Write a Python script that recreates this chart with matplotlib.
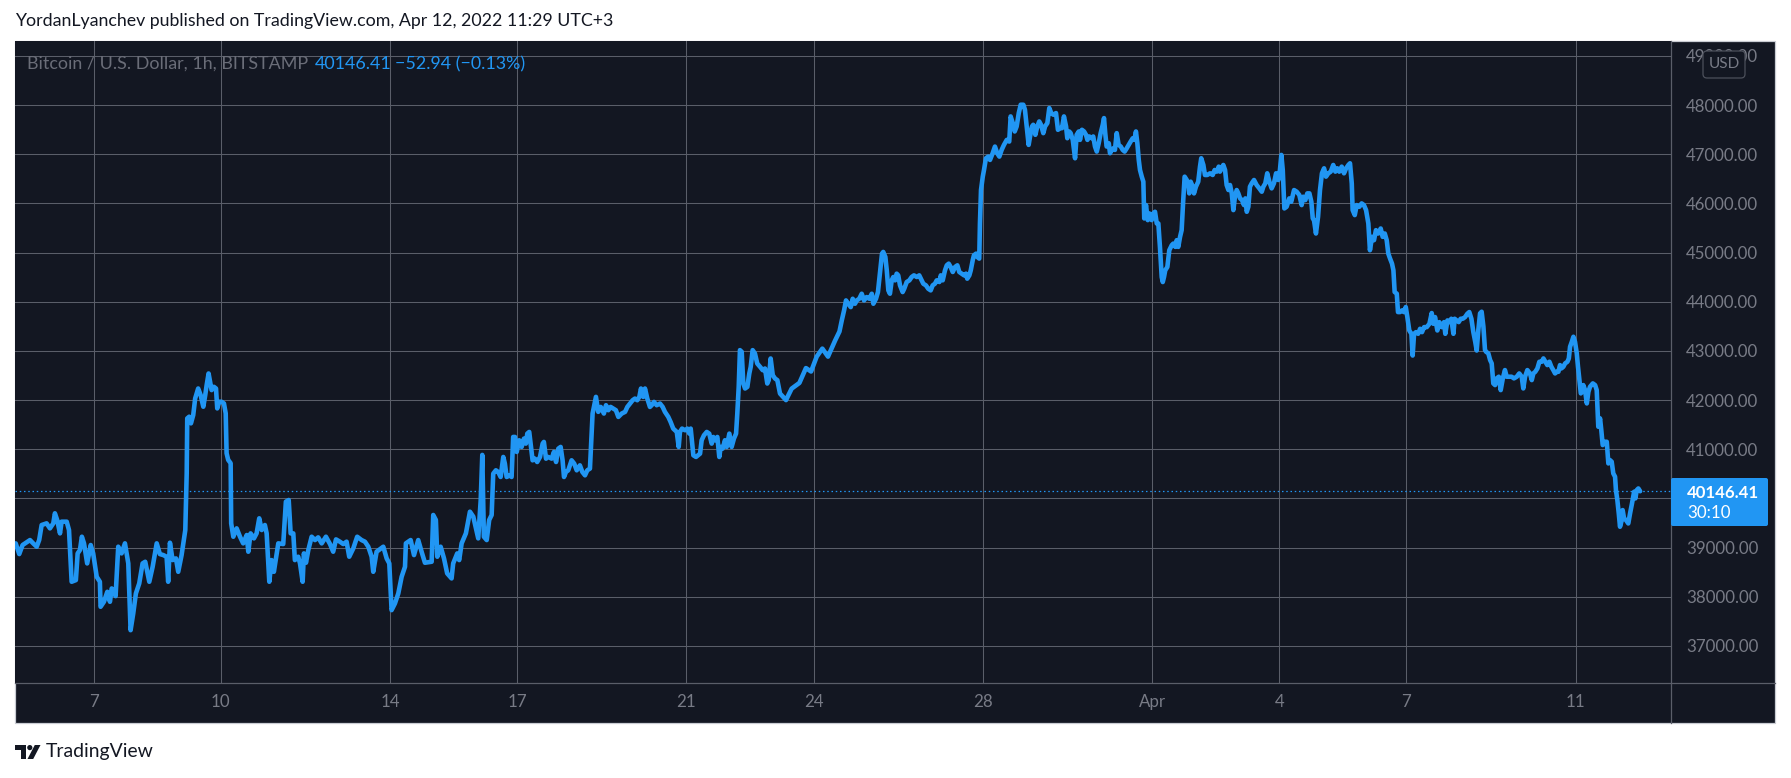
import matplotlib
matplotlib.use('Agg')
import matplotlib.pyplot as plt
from matplotlib.patches import Rectangle, FancyBboxPatch, Circle, Polygon
from matplotlib.lines import Line2D
from matplotlib.transforms import Affine2D

# ---------------- data ----------------
# hours since 2022-03-07 00:00, hourly BTC/USD (Bitstamp) trace
hours_since_mar7 = [
    -44.1, -42.1, -40.2, -36.0, -34.2, -32.2, -30.8, -29.4, -26.6, -24.7, -22.8, -21.9, -20.6, -19.0, -18.1,
    -15.2, -13.9, -12.4, -10.0, -9.0, -7.7, -6.6, -5.4, -3.6, -1.6, -0.2, 1.8, 3.6, 4.0, 5.9, 7.8, 9.3, 10.3,
    12.5, 14.0, 15.9, 17.8, 19.7, 21.0, 22.5, 24.0, 25.9, 27.8, 29.3, 31.6, 33.5, 35.8, 37.6, 39.5, 41.4, 42.3,
    43.3, 44.8, 46.7, 48.0, 49.9, 52.0, 52.8,
    53.1, 54.2, 55.2, 56.5, 57.6, 59.3, 60.7, 62.2, 63.3, 64.1, 65.2, 66.4, 66.9, 68.2, 69.4, 70.1, 71.2, 72.6,
    73.9, 74.9, 75.4, 76.3, 77.7,
    78.0, 79.2, 81.1, 83.0, 84.8, 86.8, 87.7, 89.0, 90.9, 92.4, 93.9, 95.3, 97.1, 98.1, 99.6, 100.9, 102.2,
    104.7, 107.5, 109.0, 110.6, 111.7, 113.2, 114.1, 116.0, 117.0, 118.5, 119.2, 120.4, 121.7, 123.6, 125.5,
    127.3, 129.3, 131.7, 134.0, 135.8, 137.4, 139.6, 141.5, 143.4, 144.9, 147.2, 149.4, 151.9, 153.8, 155.7,
    157.6, 158.5, 160.4, 164.2, 166.1, 167.6, 168.9, 170.8, 172.7, 174.6, 176.5, 177.0, 179.7, 181.6, 184.0,
    185.9, 187.8, 191.6, 192.5, 194.0, 194.8, 196.7, 198.6, 200.4, 202.9, 203.8, 206.1, 207.2, 208.6, 211.0,
    213.3, 215.2, 216.7, 218.0, 219.4, 220.3, 221.2, 222.8, 224.2, 225.6,
    226.5, 228.0, 229.3, 230.7, 232.2, 233.1, 234.1, 236.0, 236.9, 237.8, 238.8, 239.8, 241.2, 242.6, 243.9,
    245.0, 245.8, 246.9, 247.7, 248.8, 250.1, 251.4, 253.0, 254.5, 255.2, 256.4, 257.7, 259.6, 260.9, 262.1,
    263.4, 264.7, 265.8, 266.6, 267.7, 269.0, 270.9, 272.4, 273.8, 275.6, 277.0, 278.5, 279.8, 281.3, 282.8,
    284.7, 286.0, 287.4, 289.2, 290.4, 291.7, 293.0, 294.5, 296.0, 297.4, 299.3, 301.2, 302.5, 304.0, 305.5,
    306.8, 308.1, 309.3, 310.2, 311.5, 312.5, 313.8, 315.3, 316.3, 317.6, 319.1, 321.0, 322.5, 323.8, 325.7,
    327.0, 328.5, 330.5, 331.6, 332.3, 333.5, 335.2, 336.5, 337.6, 338.4, 339.9, 341.4, 343.7, 344.6, 345.9,
    347.5, 348.9, 350.3, 351.2, 352.2, 353.5, 354.6, 355.4, 356.5, 357.8, 358.8, 360.3, 361.6, 362.9, 364.1,
    364.8, 365.6, 366.3, 367.3, 368.2, 369.2, 370.5, 371.6, 372.4, 373.5, 374.8, 376.1, 377.7, 379.2, 380.5,
    381.8, 382.6, 383.7, 384.9, 386.2, 387.5, 389.0,
    392.4, 395.6, 400.0, 403.7, 406.6, 409.8, 413.0, 416.2, 420.2, 422.7,
    424.0, 425.3, 426.4, 427.7, 429.1, 430.2, 431.5, 432.5, 433.9, 435.3, 436.6, 438.1, 439.6, 441.0, 441.9,
    443.4, 444.5, 445.7, 446.8, 447.5, 448.7, 449.5, 450.4, 451.3, 452.3, 453.2, 454.2, 455.1, 456.0, 457.0,
    458.5, 459.4, 460.8, 462.3, 463.6, 464.9, 466.5, 467.9, 469.3, 470.2, 471.7, 473.0, 474.4, 475.5, 476.8,
    477.8, 479.3, 480.1, 481.2, 482.5, 483.5, 484.6, 485.7, 486.9, 488.2, 489.5, 490.6, 492.0, 493.3, 494.4,
    495.1, 496.3, 497.1, 498.2, 498.9, 500.1, 500.8, 501.9, 502.3,
    502.9, 503.9, 504.6, 505.7, 507.0, 508.0, 509.5, 510.8, 512.1, 513.3, 514.6, 515.9, 517.5, 518.9, 519.7,
    520.9, 522.0, 523.1, 524.3, 525.4, 526.9, 527.8, 528.8, 529.9, 530.7, 531.8, 532.5, 533.7, 534.8, 535.9,
    536.9, 538.2, 539.2, 540.5, 541.6, 542.7, 543.9, 545.4, 546.5, 547.7, 548.8, 549.9, 551.1, 551.8, 552.9,
    553.7, 554.9, 556.2, 557.1, 558.3, 559.0, 560.1, 561.3, 562.4, 563.2, 564.3, 565.6, 566.5, 567.5, 568.5,
    569.6, 570.7, 571.9, 572.6, 573.3, 574.1, 575.3, 576.0, 577.0, 577.9, 578.8, 579.8, 580.9, 582.1, 583.2,
    584.3, 585.5, 586.6, 587.7, 588.9, 589.8, 590.7, 591.5, 592.3, 593.0, 594.0, 594.9, 595.4, 596.4, 597.4,
    598.3, 599.6, 600.5, 601.5, 602.5, 603.4, 604.3, 605.3, 605.9, 606.6, 607.3, 608.5, 609.6, 611.0, 611.9,
    613.0, 613.8, 614.7, 615.7, 616.6, 617.5, 618.3, 619.5, 620.4, 620.9, 621.7, 622.9, 623.6, 624.7, 626.0,
    627.0, 627.7, 628.9, 629.8, 631.1, 632.7, 634.2, 635.3, 636.5, 637.6, 638.3, 639.3, 640.2, 641.2, 642.1,
    643.1, 644.0, 645.0, 645.9, 646.8, 647.8, 648.7, 649.7, 650.8, 651.9, 652.7, 653.5, 654.4, 655.3,
    656.3, 657.6, 659.1, 660.6, 662.0, 662.9, 664.0, 665.1, 666.3, 667.6, 668.9, 670.1, 671.4, 672.3, 673.1,
    673.9, 674.8, 676.1, 677.6, 678.7, 680.3, 681.8, 683.3, 684.6, 685.5, 686.7, 687.8, 689.0, 690.1, 690.9,
    691.6, 692.7, 693.9, 695.0, 696.1, 697.3, 698.4, 699.7, 701.1, 702.5, 703.7, 704.8, 705.9, 707.3, 708.6,
    709.8, 711.1, 712.0, 713.0, 713.5, 714.7, 715.8, 717.3, 718.6, 719.9, 721.1, 722.4, 723.3, 724.5, 725.6,
    726.7, 728.0, 729.4, 730.5, 731.7, 732.8, 733.7, 734.7, 735.8, 736.6, 737.3, 738.5, 739.2, 740.3, 741.5,
    742.6, 743.6, 744.5, 745.6, 746.8, 747.5, 748.3, 749.4, 750.6, 751.7, 752.8, 754.0, 755.5, 757.0, 758.3,
    759.2, 760.2, 761.5, 762.6, 764.0, 765.3, 766.0, 767.2, 768.3, 769.4, 770.6, 771.3, 772.5, 773.6, 774.7,
    775.9, 777.2, 778.5, 779.6, 780.8, 781.9, 783.0, 783.8, 784.7,
    785.7, 786.6, 787.6, 788.5, 789.1, 790.4, 791.4, 792.3, 793.2, 794.2, 795.1, 796.3, 797.4, 798.6, 799.8,
    800.8, 802.3, 803.6, 804.9, 806.5, 807.9, 809.3, 810.2, 811.2, 812.5, 814.0, 815.0, 815.9, 817.0, 818.2,
    819.3, 820.7, 821.6, 822.7, 823.8, 825.0, 826.1, 827.2, 828.2, 829.2, 830.1, 831.0, 831.8, 832.9, 833.9,
    835.2, 836.0, 836.7, 837.7, 838.6, 839.5, 840.5, 841.2, 842.0, 842.8, 843.5, 844.2, 845.2, 846.2, 847.1,
    848.0, 849.6, 850.9, 851.8, 852.7, 853.7, 854.4, 855.2, 856.5, 857.5, 858.4, 859.3, 860.3, 861.2, 862.2,
    862.7, 863.5, 864.3, 865.0, 866.0, 866.5, 867.3, 868.4, 869.7, 870.7, 871.8, 873.0, 873.7, 874.5, 875.4,
    876.4,
]
close_price = [
    39086, 38868, 39052, 39153, 39086, 39018, 39153, 39459, 39493, 39391, 39493, 39697, 39561, 39289, 39527,
    39527, 39357, 38305, 38339, 38882, 38950, 39221, 39086, 38678, 39052, 38882, 38407, 38305, 37796, 37898,
    38101, 37898, 38169, 38013, 39018, 38882, 39086, 38678, 37320, 37660, 38067, 38271, 38678, 38712, 38305,
    38610, 39086, 38868, 38848, 38814, 38305, 39099, 38746, 38780, 38508, 38848, 39357, 40511,
    41628, 41662, 41527, 41696, 42034, 42236, 42101, 41865, 42101, 42304, 42541, 42304, 42203, 42270, 42236,
    41831, 41966, 41966, 41932, 41730, 40919, 40784, 40716,
    39493, 39221, 39391, 39221, 39086, 39255, 38916, 39289, 39187, 39289, 39595, 39357, 39459, 39289, 38305,
    38746, 38508, 39086, 39072, 39934, 39968, 39289, 39289, 38746, 38814, 38678, 38305, 38882, 38692, 38950,
    39221, 39153, 39208, 39086, 39221, 39072, 38916, 39167, 39120, 39072, 39120, 38814, 38984, 39221, 39153,
    39120, 39018, 38814, 38508, 38916, 39018, 38780, 38678, 37728, 37864, 38067, 38407, 38610, 39086, 39153,
    38848, 39153, 38916, 38692, 38712, 39663, 39561, 38814, 39018, 38780, 38475, 38373, 38678, 38882, 38746,
    39086, 39289, 39730, 39629, 39391, 39187, 39968, 40885, 39221, 39153, 39561, 39663,
    40504, 40572, 40538, 40436, 40843, 40707, 40436, 40470, 40436, 41250, 41250, 40945, 41183, 41047, 41217,
    41115, 41318, 41352, 41115, 40775, 40809, 40741, 40843, 41115, 41149, 40809, 40843, 40809, 40945, 40741,
    41013, 41047, 40775, 40436, 40538, 40572, 40775, 40707, 40572, 40673, 40538, 40470, 40572, 40606, 41726,
    42065, 41760, 41861, 41726, 41896, 41794, 41861, 41828, 41794, 41658, 41726, 41760, 41861, 41929, 41997,
    42031, 41997, 42065, 42235, 42065, 42235, 42031, 41861, 41896, 41963, 41896, 41929, 41861, 41760, 41658,
    41556, 41420, 41352, 41047, 41352, 41420, 41386, 41420, 41318, 41420, 40877, 40843, 40911, 41183, 41284,
    41352, 41318, 41115, 41250, 41183, 41250, 40843, 41047, 41013, 41183, 41047, 41318, 41047, 41217, 41318,
    41726, 42269, 43016, 42982, 42337, 42235, 42269, 42540, 42676, 43016, 42948, 42744, 42676, 42608, 42642,
    42337, 42405, 42846, 42506, 42438, 42405, 42133,
    42000, 42233, 42349, 42651, 42581, 42884, 43047, 42884, 43209, 43395,
    43619, 43823, 44027, 43959, 43891, 44061, 43959, 44027, 44061, 44163, 44027, 44095, 44061, 44163, 43959,
    44061, 44197, 44605, 44979, 45013, 44911, 44639, 44231, 44163, 44435, 44503, 44435, 44571, 44537, 44333,
    44197, 44265, 44401, 44435, 44503, 44537, 44503, 44537, 44435, 44367, 44333, 44265, 44231, 44333, 44367,
    44435, 44401, 44537, 44435, 44639, 44741, 44775, 44707, 44605, 44707, 44741, 44605, 44571, 44537, 44571,
    44469, 44537, 44639, 44843, 44945, 44979, 44911, 44877, 45592,
    46272, 46544, 46680, 46918, 46952, 46884, 47020, 47156, 47020, 46952, 47088, 47190, 47292, 47258, 47769,
    47633, 47463, 47565, 47837, 48007, 48007, 47905, 47565, 47190, 47361, 47565, 47599, 47395, 47565, 47667,
    47599, 47429, 47565, 47633, 47939, 47837, 47803, 47837, 47497, 47531, 47531, 47769, 47565, 47326, 47463,
    47429, 47292, 46918, 47395, 47463, 47292, 47497, 47463, 47395, 47292, 47361, 47326, 47361, 47156, 47054,
    47224, 47429, 47599, 47735, 47429, 47156, 47224, 47020, 47088, 47122, 47088, 47429, 47190, 47156, 47088,
    47054, 47122, 47190, 47258, 47326, 47292, 47463, 47224, 46884, 46680, 46544, 46442, 45694, 45966, 45660,
    45796, 45660, 45796, 45830, 45592, 45592, 45116, 44503, 44401, 44503, 44639, 44707, 45048, 45150, 45184,
    45116, 45252, 45116, 45320, 45456, 46068, 46544, 46476, 46374, 46204, 46442, 46340, 46204, 46340, 46442,
    46748, 46918, 46782, 46578, 46578, 46612, 46578, 46680, 46646, 46748, 46646, 46714, 46782, 46680, 46374,
    46272, 46374, 46204, 45864, 46136, 46272, 46204, 46102, 46068, 45966, 46102, 45830, 45932, 46340,
    46408, 46476, 46374, 46306, 46238, 46340, 46408, 46612, 46442, 46306, 46408, 46612, 46476, 46680, 46986,
    46680, 45898, 45932, 46102, 46034, 46272, 46238, 46170, 45966, 46136, 46068, 46204, 46204, 46034, 45694,
    45660, 45388, 45728, 46272, 46612, 46714, 46544, 46612, 46646, 46782, 46646, 46714, 46646, 46748, 46612,
    46714, 46782, 46816, 46408, 45864, 45762, 45966, 45932, 46000, 45966, 45864, 45592, 45048, 45320, 45252,
    45456, 45388, 45490, 45320, 45388, 45252, 44980, 44878, 44776, 44640, 44198, 44164, 43790, 43790, 43824,
    43790, 43892, 43688, 43416, 43348, 42906, 43348, 43382, 43348, 43450, 43382, 43484, 43484, 43552, 43770,
    43552, 43688, 43416, 43586, 43484, 43586, 43348, 43620, 43586, 43654, 43348, 43654, 43620, 43586, 43654,
    43654, 43688, 43756, 43790, 43654, 43382, 43178, 43008, 43416,
    43763, 43797, 43492, 43017, 42983, 42949, 42814, 42746, 42339, 42305, 42441, 42475, 42203, 42441, 42610,
    42475, 42475, 42475, 42441, 42475, 42542, 42475, 42237, 42475, 42610, 42542, 42407, 42542, 42576, 42644,
    42780, 42780, 42847, 42780, 42712, 42780, 42678, 42610, 42542, 42576, 42576, 42712, 42644, 42678, 42746,
    42780, 42847, 43085, 43186, 43288, 43186, 42949, 42678, 42407, 42136, 42169, 42305, 42203, 41932, 42169,
    42271, 42339, 42305, 42203, 41458, 41627, 41390, 41085, 41152, 41152, 40712, 40780, 40746, 40508, 40441,
    40169, 39966, 39695, 39424, 39559, 39763, 39593, 39559, 39491, 39695, 39898, 40136, 40000, 40169, 40203,
    40146.41,
]
last_price = 40146.41
last_price_text = "40146.41"
change_text = "\u221252.94 (\u22120.13%)"
countdown_text = "30:10"
symbol_text = "Bitcoin / U.S. Dollar, 1h, BITSTAMP"
header_text = "YordanLyanchev published on TradingView.com, Apr 12, 2022 11:29 UTC+3"
y_ticks = [37000, 38000, 39000, 40000, 41000, 42000, 43000, 44000, 45000, 46000, 47000, 48000, 49000]
x_tick_hours = [0, 72, 168, 240, 336, 408, 504, 600, 672, 744, 840]
x_tick_labels = ['7', '10', '14', '17', '21', '24', '28', 'Apr', '4', '7', '11']

# ---------------- styling / layout ----------------
W, H, DPI = 1791, 778, 100
FONT = ['Lato', 'DejaVu Sans']
BG = '#131722'
GRID = '#5a5e69'
BLUE = '#2196F3'
TXT_GRAY = '#787b86'

fig = plt.figure(figsize=(W / DPI, H / DPI), dpi=DPI, facecolor='white')
pix = Affine2D().scale(1.0 / W, 1.0 / H) + fig.transFigure   # pixel coords (origin bottom-left)

def Y(ytop):
    return H - ytop

PANEL_L, PANEL_T, PANEL_R, PANEL_B = 15, 41, 1775, 723
PLOT_R, PLOT_B = 1671, 683

# dark panel
fig.patches.append(Rectangle((PANEL_L, Y(PANEL_B)), PANEL_R - PANEL_L, PANEL_B - PANEL_T,
                             transform=pix, facecolor=BG, edgecolor='#c9ccd3', lw=0.9, zorder=-5))

ax = fig.add_axes([PANEL_L / W, 1 - PLOT_B / H, (PLOT_R - PANEL_L) / W, (PLOT_B - PANEL_T) / H])
ax.set_facecolor(BG)
for s in ax.spines.values():
    s.set_visible(False)

ax.set_xlim(-44.5, 893.9)
ax.set_ylim(36246, 49303)

ax.set_yticks(y_ticks)
# the 40000.00 label sits under the last-price tag in the reference, so it is left blank
ax.set_yticklabels(["" if abs(v - last_price) < 500 else f"{v:.2f}" for v in y_ticks])
ax.yaxis.set_ticks_position('right')
ax.set_xticks(x_tick_hours)
ax.set_xticklabels(x_tick_labels)
ax.grid(True, color=GRID, lw=0.75, zorder=0)
ax.set_axisbelow(True)

# measure text size helpers
fig.canvas.draw()
renderer = fig.canvas.get_renderer()

def size_for(text, width_px, weight='normal'):
    t = fig.text(0, 0, text, fontsize=10, family=FONT, weight=weight)
    w = t.get_window_extent(renderer).width
    t.remove()
    return 10.0 * width_px / w

tick_fs = size_for("48000.00", 72)
ax.tick_params(axis='y', length=0, pad=15 * 0.72, labelsize=tick_fs, labelcolor=TXT_GRAY)
ax.tick_params(axis='x', length=0, pad=19 * 0.72, labelsize=tick_fs, labelcolor=TXT_GRAY)
for lab in ax.get_yticklabels() + ax.get_xticklabels():
    lab.set_family(FONT)
for lab in ax.get_xticklabels():
    lab.set_va('center')

# price line and last-price dotted line
ax.plot(hours_since_mar7, close_price, color=BLUE, lw=3.3, solid_joinstyle='round',
        solid_capstyle='round', zorder=3)
ax.axhline(last_price, color=BLUE, lw=0.9, ls=(0, (1.2, 2.2)), zorder=2)

# separators
fig.lines.append(Line2D([PLOT_R, PLOT_R], [Y(PANEL_T), Y(PANEL_B)], transform=pix, color=GRID, lw=0.9, zorder=6))
fig.lines.append(Line2D([PANEL_L, PANEL_R], [Y(PLOT_B), Y(PLOT_B)], transform=pix, color=GRID, lw=0.9, zorder=6))

# USD box
fig.patches.append(FancyBboxPatch((1703, Y(78)), 42, 27, boxstyle='round,pad=0,rounding_size=4',
                                  transform=pix, facecolor=BG, edgecolor='#4c505b', lw=0.9, zorder=7))
usd_fs = size_for("USD", 31)
fig.text(1724 / W, Y(64.5) / H, "USD", transform=fig.transFigure, family=FONT, fontsize=usd_fs,
         color=TXT_GRAY, ha='center', va='center', zorder=8)

# last price label
fig.patches.append(FancyBboxPatch((1671, Y(526)), 97, 48, boxstyle='round,pad=0,rounding_size=2',
                                  transform=pix, facecolor=BLUE, edgecolor='none', zorder=7))
bold_fs = size_for(last_price_text, 72, weight='bold')
fig.text(1687 / W, Y(492.5) / H, last_price_text, family=FONT, fontsize=bold_fs, weight='bold',
         color='white', ha='left', va='center', zorder=8)
fig.text(1687 / W, Y(512.5) / H, countdown_text, family=FONT, fontsize=tick_fs,
         color='white', ha='left', va='center', zorder=8)

# legend line
leg_fs = size_for(symbol_text, 279)
fig.text(27 / W, Y(64) / H, symbol_text, family=FONT, fontsize=leg_fs, color='#6a6d78',
         ha='left', va='center', zorder=8)
fig.text(315 / W, Y(64) / H, last_price_text, family=FONT, fontsize=leg_fs, color=BLUE,
         ha='left', va='center', zorder=8)
fig.text(395 / W, Y(64) / H, change_text, family=FONT, fontsize=leg_fs, color=BLUE,
         ha='left', va='center', zorder=8)

# header
hdr_fs = size_for(header_text, 598)
fig.text(15 / W, Y(21) / H, header_text, family=FONT, fontsize=hdr_fs, color='#131722',
         ha='left', va='center')

# TradingView logo
LOGO = '#131722'
fig.patches.append(Rectangle((15, Y(749.5)), 11, 4.5, transform=pix, facecolor=LOGO, edgecolor='none'))
fig.patches.append(Rectangle((20.5, Y(759)), 5.5, 14, transform=pix, facecolor=LOGO, edgecolor='none'))
fig.patches.append(Circle((29.8, Y(747.6)), 2.6, transform=pix, facecolor=LOGO, edgecolor='none'))
fig.patches.append(Polygon([(27.5, Y(759)), (33.2, Y(759)), (40.5, Y(745)), (34.8, Y(745))],
                           closed=True, transform=pix, facecolor=LOGO, edgecolor='none'))
tv_fs = size_for("TradingView", 108)
fig.text(46 / W, Y(752) / H, "TradingView", family=FONT, fontsize=tv_fs, color=LOGO,
         ha='left', va='center')

fig.savefig('out.png', dpi=DPI, facecolor='white')
